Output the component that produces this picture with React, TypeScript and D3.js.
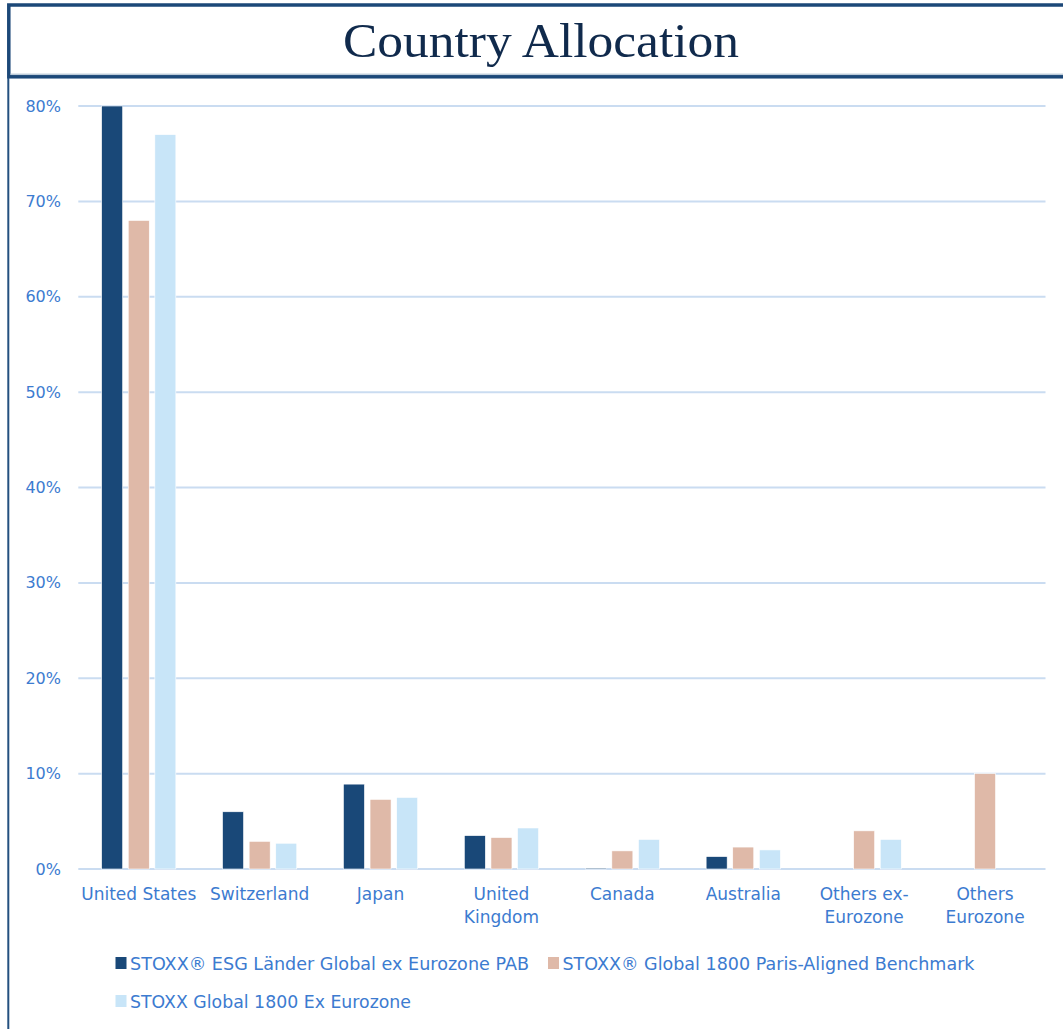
import React from "react";
import * as d3 from "d3";

const categories: string[][] = [
  ["United States"],
  ["Switzerland"],
  ["Japan"],
  ["United", "Kingdom"],
  ["Canada"],
  ["Australia"],
  ["Others ex-", "Eurozone"],
  ["Others", "Eurozone"],
];
const seriesNames = [
  "STOXX® ESG Länder Global ex Eurozone PAB",
  "STOXX® Global 1800 Paris-Aligned Benchmark",
  "STOXX Global 1800 Ex Eurozone",
];
const esgPab = [80.0, 6.0, 8.9, 3.5, 0.1, 1.3, 0, 0];
const parisAligned = [68.0, 2.9, 7.3, 3.3, 1.9, 2.3, 4.0, 10.0];
const global1800 = [77.0, 2.7, 7.5, 4.3, 3.1, 2.0, 3.1, 0];
const yTicks = [0, 10, 20, 30, 40, 50, 60, 70, 80];
const colors = ["#194878", "#dfb9a8", "#c8e5f8"];

const series = [esgPab, parisAligned, global1800];

export default function App() {
  const W = 1063;
  const H = 1029;
  const left = 78.3;
  const right = 1045.5;
  const top = 106;
  const bottom = 869;
  const textColor = "#3c7bd0";
  const font = "DejaVu Sans, sans-serif";

  const x0 = d3
    .scaleBand<number>()
    .domain(d3.range(categories.length))
    .range([left, right])
    .paddingInner(0.386)
    .paddingOuter(0.193);
  const x1 = d3
    .scaleBand<number>()
    .domain([0, 1, 2])
    .range([0, x0.bandwidth()])
    .paddingInner(0.21);
  const y = d3.scaleLinear().domain([0, 80]).range([bottom, top]);

  const legendItems = [
    { idx: 0, sx: 115.5, ty: 970, len: 399 },
    { idx: 1, sx: 548, ty: 970, len: 412 },
    { idx: 2, sx: 115.5, ty: 1008, len: 281 },
  ];

  return (
    <svg width={W} height={H} style={{ position: "absolute", left: 0, top: 0 }}>
      <rect x={0} y={0} width={W} height={H} fill="#ffffff" />
      {/* title frame */}
      <rect x={8.8} y={5} width={1100} height={71.8} fill="none" stroke="#1c4878" strokeWidth={3.5} />
      <line x1={10} x2={W} y1={74.2} y2={74.2} stroke="#9fb4c8" strokeWidth={1} />
      <line x1={8.3} x2={8.3} y1={78} y2={H} stroke="#24507f" strokeWidth={2} />
      <text
        x={541}
        y={56.5}
        textAnchor="middle"
        fontFamily="Liberation Serif, serif"
        fontSize={49}
        fill="#102a4c"
        textLength={396}
        lengthAdjust="spacingAndGlyphs"
      >
        Country Allocation
      </text>

      {/* grid */}
      {yTicks.map((t) => (
        <g key={t}>
          <line x1={left} x2={right} y1={y(t)} y2={y(t)} stroke="#cadcf1" strokeWidth={2} />
          <text
            x={61}
            y={y(t) + 5.5}
            textAnchor="end"
            fontFamily={font}
            fontSize={16}
            fill={textColor}
          >
            {t}%
          </text>
        </g>
      ))}

      {/* bars */}
      {categories.map((c, i) => (
        <g key={i} transform={`translate(${x0(i)},0)`}>
          {series.map((s, j) =>
            s[i] > 0 ? (
              <rect
                key={j}
                x={x1(j)}
                y={y(s[i])}
                width={x1.bandwidth()}
                height={bottom - y(s[i])}
                fill={colors[j]}
                stroke="#ffffff"
                strokeWidth={0.6}
              />
            ) : null
          )}
        </g>
      ))}

      {/* x labels */}
      {categories.map((c, i) => (
        <text
          key={i}
          x={(x0(i) as number) + x0.bandwidth() / 2}
          y={900}
          textAnchor="middle"
          fontFamily={font}
          fontSize={17}
          fill={textColor}
        >
          {c.map((line, k) => (
            <tspan key={k} x={(x0(i) as number) + x0.bandwidth() / 2} dy={k === 0 ? 0 : 22.5}>
              {line}
            </tspan>
          ))}
        </text>
      ))}

      {/* legend */}
      {legendItems.map((l) => (
        <g key={l.idx}>
          <rect x={l.sx} y={l.ty - 13} width={11} height={12} fill={colors[l.idx]} />
          <text
            x={l.sx + 14.5}
            y={l.ty}
            fontFamily={font}
            fontSize={17.4}
            fill={textColor}
            textLength={l.len}
            lengthAdjust="spacingAndGlyphs"
          >
            {seriesNames[l.idx]}
          </text>
        </g>
      ))}
    </svg>
  );
}
